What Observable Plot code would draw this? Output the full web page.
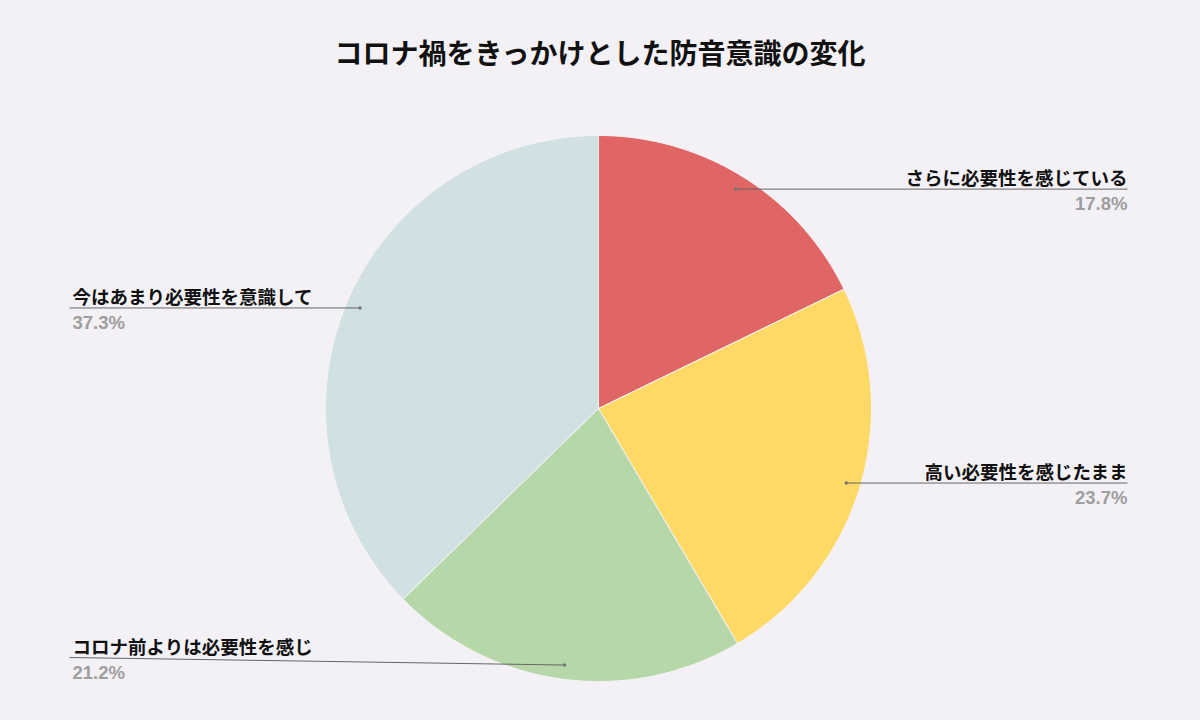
<!DOCTYPE html>
<html><head><meta charset="utf-8">
<script src="https://cdn.jsdelivr.net/npm/d3@7"></script>
<script src="https://cdn.jsdelivr.net/npm/@observablehq/plot@0.6"></script>
<style>
html,body{margin:0;padding:0;background:#f3f1f5;}
#title{height:100px;box-sizing:border-box;padding-top:4px;display:flex;align-items:center;justify-content:center;font-family:"Noto Sans CJK JP";font-weight:700;font-size:28px;color:#111;}
#chart svg{display:block;}
</style></head><body>
<div id="title">コロナ禍をきっかけとした防音意識の変化</div>
<div id="chart"></div>
<script>
const categories = ["さらに必要性を感じている", "高い必要性を感じたまま", "コロナ前よりは必要性を感じ", "今はあまり必要性を意識して"];
const values = [17.8, 23.7, 21.2, 37.3];
const colors = ["#e06666", "#ffd966", "#b6d7a8", "#d0e0e3"];

// layout
const W = 1200, H = 620, R = 273, cx = 598, cy = 308;
const rightX = (1127 - cx) / R, leftX = (69 - cx) / R;
const minLabelY = (cy - 557) / R;
const dotR = 0.948;

const rows = categories.map((c, i) => ({key: c, value: values[i], color: colors[i]}));
const arcs = d3.pie().sort(null).value(d => d.value)(rows);

const poly = [];
arcs.forEach(a => {
  const n = Math.max(2, Math.ceil((a.endAngle - a.startAngle) / 0.01));
  poly.push({key: a.data.key, color: a.data.color, x: 0, y: 0});
  for (let k = 0; k <= n; k++) {
    const t = a.startAngle + (a.endAngle - a.startAngle) * k / n;
    poly.push({key: a.data.key, color: a.data.color, x: Math.sin(t), y: Math.cos(t)});
  }
  poly.push({key: a.data.key, color: a.data.color, x: 0, y: 0});
});

const lab = arcs.map(a => {
  const m = (a.startAngle + a.endAngle) / 2;
  const dx = dotR * Math.sin(m), dy = dotR * Math.cos(m);
  const right = m < Math.PI;
  return {
    name: a.data.key,
    pct: a.data.value.toFixed(1) + "%",
    dx, dy, right,
    lx: right ? rightX : leftX,
    ly: Math.max(dy, minLabelY)
  };
});
const R_ = lab.filter(d => d.right), L_ = lab.filter(d => !d.right);
const jp = "Noto Sans CJK JP";
const lat = "Liberation Sans, Arial, sans-serif";

const chart = Plot.plot({
  width: W, height: H,
  margin: 0,
  style: {background: "transparent", overflow: "visible"},
  x: {domain: [-cx / R, (W - cx) / R], axis: null},
  y: {domain: [-(H - cy) / R, cy / R], axis: null},
  color: {type: "identity"},
  marks: [
    Plot.line(poly, {x: "x", y: "y", z: "key", fill: "color", stroke: "#f6f4f8", strokeWidth: 1, curve: "linear"}),
    Plot.link(lab, {x1: "dx", y1: "dy", x2: "lx", y2: "ly", stroke: "#666", strokeWidth: 1}),
    Plot.dot(lab, {x: "dx", y: "dy", r: 1.8, fill: "#777"}),
    Plot.text(R_, {x: "lx", y: "ly", text: "name", textAnchor: "end", lineAnchor: "bottom", dy: -4, fontFamily: jp, fontWeight: 700, fontSize: 18.5, fill: "#111"}),
    Plot.text(L_, {x: "lx", y: "ly", text: "name", textAnchor: "start", lineAnchor: "bottom", dy: -4, dx: 3, fontFamily: jp, fontWeight: 700, fontSize: 18.5, fill: "#111"}),
    Plot.text(R_, {x: "lx", y: "ly", text: "pct", textAnchor: "end", lineAnchor: "top", dy: 8, fontFamily: lat, fontWeight: 700, fontSize: 18.5, fill: "#9e9e9e"}),
    Plot.text(L_, {x: "lx", y: "ly", text: "pct", textAnchor: "start", lineAnchor: "top", dy: 8, dx: 3, fontFamily: lat, fontWeight: 700, fontSize: 18.5, fill: "#9e9e9e"})
  ]
});
document.getElementById("chart").appendChild(chart);
</script>
</body></html>
